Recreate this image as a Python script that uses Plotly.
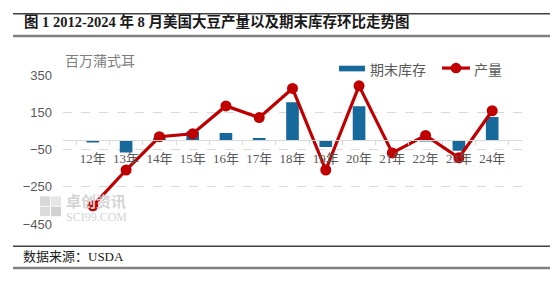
import plotly.graph_objects as go

# Year labels and month-on-month changes (million bushels)
years = ["12年", "13年", "14年", "15年", "16年", "17年", "18年",
         "19年", "20年", "21年", "22年", "23年", "24年"]
ending_stocks = [-10, -65, 14, 48, 40, 13, 206, -35, 184, 0, 10, -55, 126]
production = [-352, -159, 20, 36, 186, 123, 280, -159, 294, -67, 27, -93, 160]
y_ticks = [350, 150, -50, -250, -450]

W, H = 550, 281
BLUE = "#17699B"
RED = "#C00000"
GRAY_TXT = "#595959"
CJK = "Liberation Serif, Noto Sans CJK SC"


def py(pix):
    """Convert a pixel row (from top) to paper coordinate."""
    return 1 - pix / H


def px(pix):
    return pix / W


fig = go.Figure()
fig.add_trace(go.Bar(x=years, y=ending_stocks, name="期末库存",
                     marker=dict(color=BLUE, line=dict(width=0)),
                     width=0.38))
fig.add_trace(go.Scatter(x=years, y=production, name="产量", mode="lines+markers",
                         line=dict(color=RED, width=3.2),
                         marker=dict(color=RED, size=11)))

fig.update_layout(
    width=W, height=H,
    margin=dict(l=0, r=0, t=0, b=0),
    paper_bgcolor="white", plot_bgcolor="white",
    showlegend=False,
    font=dict(family=CJK, color=GRAY_TXT, size=13),
    xaxis=dict(domain=[px(63), px(522)], anchor="free", position=py(141),
               showline=True, linecolor="#D9D9D9", linewidth=1,
               ticks="outside", tickson="boundaries", ticklen=4,
               tickcolor="#D9D9D9", showgrid=False, tickangle=0,
               ticklabelstandoff=6,
               tickfont=dict(family=CJK, size=13, color=GRAY_TXT)),
    yaxis=dict(domain=[py(229.3), py(72.3)], range=[-450, 350],
               tickvals=y_ticks, showgrid=True, gridcolor="#D9D9D9",
               griddash="dash", gridwidth=1, zeroline=False,
               ticks="", ticklabelstandoff=10,
               tickfont=dict(family="Liberation Sans", size=13, color=GRAY_TXT)),
)

shapes = []
# Frame rules above the title and around the source line
shapes.append(dict(type="line", xref="paper", yref="paper", x0=px(13), x1=1,
                   y0=py(7), y1=py(7), line=dict(color="#404040", width=1.5)))
shapes.append(dict(type="line", xref="paper", yref="paper", x0=px(13), x1=1,
                   y0=py(30.7), y1=py(30.7), line=dict(color="#808080", width=2.5)))
shapes.append(dict(type="line", xref="paper", yref="paper", x0=px(13), x1=1,
                   y0=py(252.7), y1=py(252.7), line=dict(color="#404040", width=1.5)))
shapes.append(dict(type="line", xref="paper", yref="paper", x0=px(13), x1=1,
                   y0=py(275.7), y1=py(275.7), line=dict(color="#808080", width=2.5)))
# Legend keys
shapes.append(dict(type="rect", xref="paper", yref="paper", x0=px(339), x1=px(365),
                   y0=py(68), y1=py(62), fillcolor=BLUE, line=dict(width=0)))
shapes.append(dict(type="line", xref="paper", yref="paper", x0=px(442), x1=px(470),
                   y0=py(64.5), y1=py(64.5), line=dict(color=RED, width=3.2)))
shapes.append(dict(type="circle", xref="paper", yref="paper", x0=px(450.5), x1=px(461.5),
                   y0=py(70), y1=py(59), fillcolor=RED, line=dict(width=0)))
# Watermark tile icon
for (ix, iy, c) in [(40, 200, "#D8D8D8"), (51, 200, "#E6E6E6"),
                    (40, 211, "#DADADA"), (51, 211, "#D0D0D0")]:
    shapes.append(dict(type="rect", xref="paper", yref="paper", x0=px(ix), x1=px(ix + 10),
                       y0=py(iy + 10), y1=py(iy), fillcolor=c, line=dict(width=0)))
fig.update_layout(shapes=shapes)

ann = [
    dict(text="<b>图 1 2012-2024 年 8 月美国大豆产量以及期末库存环比走势图</b>",
         x=px(22), y=py(15.5), xanchor="left", yanchor="middle",
         font=dict(size=14.5, color="#1a1a1a", family=CJK)),
    dict(text="数据来源：USDA", x=px(21), y=py(264), xanchor="left", yanchor="middle",
         font=dict(size=13, color="#1a1a1a", family=CJK)),
    dict(text="百万蒲式耳", x=px(63), y=py(56), xanchor="left", yanchor="middle",
         font=dict(size=14, color="#7F7F7F", family="Noto Sans CJK SC")),
    dict(text="期末库存", x=px(368), y=py(65), xanchor="left", yanchor="middle",
         font=dict(size=14, color=GRAY_TXT, family="Noto Sans CJK SC")),
    dict(text="产量", x=px(472), y=py(65), xanchor="left", yanchor="middle",
         font=dict(size=14, color=GRAY_TXT, family="Noto Sans CJK SC")),
    dict(text="<b>卓创资讯</b>", x=px(64), y=py(204), xanchor="left", yanchor="middle",
         font=dict(size=15, color="#D4D4D4", family="Noto Sans CJK SC")),
    dict(text="SCI99.COM", x=px(64), y=py(222), xanchor="left", yanchor="middle",
         font=dict(size=12, color="#D4D4D4", family="Liberation Serif")),
]
for a in ann:
    a.update(xref="paper", yref="paper", showarrow=False)
fig.update_layout(annotations=ann)

fig.write_html("out.html")
